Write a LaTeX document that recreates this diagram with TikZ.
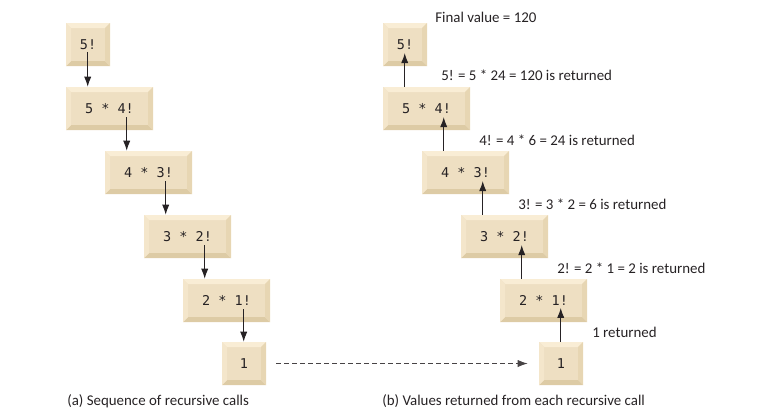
\documentclass[tikz,border=0pt]{standalone}
\usepackage{fontspec}
\setmainfont{Carlito}
\setmonofont{DejaVu Sans Mono}
\usetikzlibrary{arrows.meta,calc}
\definecolor{keyface}{HTML}{EEDFC2}
\definecolor{keytop}{HTML}{F9EDD5}
\definecolor{keyleft}{HTML}{F4E6CB}
\definecolor{keyright}{HTML}{E7D6B3}
\definecolor{keybottom}{HTML}{DDCBA5}
\definecolor{ink}{HTML}{262224}
\tikzset{>={Latex[length=2.5mm,width=1.8mm]}}
\tikzset{
  keybox/.style={rectangle,inner sep=0pt,minimum width=11mm,minimum height=10.75mm,
    fill=keyface,text=ink,font=\ttfamily\fontsize{9.6}{11}\selectfont,
    path picture={
      \path (path picture bounding box.north west) coordinate (nw)
            (path picture bounding box.south east) coordinate (se);
      \fill[keytop] (nw) -- (nw -| se) -- ($(nw -| se)+(-1.25mm,-1.25mm)$) -- ($(nw)+(1.25mm,-1.25mm)$) -- cycle;
      \fill[keybottom] (se) -- (se -| nw) -- ($(se -| nw)+(1.25mm,1.25mm)$) -- ($(se)+(-1.25mm,1.25mm)$) -- cycle;
      \fill[keyleft] (nw) -- (se -| nw) -- ($(se -| nw)+(1.25mm,1.25mm)$) -- ($(nw)+(1.25mm,-1.25mm)$) -- cycle;
      \fill[keyright] (se) -- (nw -| se) -- ($(nw -| se)+(-1.25mm,-1.25mm)$) -- ($(se)+(-1.25mm,1.25mm)$) -- cycle;
    }},
  widekey/.style={keybox,minimum width=21.75mm},
  note/.style={anchor=west,inner sep=0pt,text=ink,font=\fontsize{10.6}{12}\selectfont},
  callarrow/.style={->,draw=ink,line width=0.7pt}
}

\begin{document}
\begin{tikzpicture}[x=0.25mm,y=-0.25mm]
\useasboundingbox (0,0) rectangle (772,416);
% (a) the calls going down
\node[keybox]  (a1) at (88,44.5)    {5!};
\node[widekey] (a2) at (109.5,108.5) {5 * 4!};
\node[widekey] (a3) at (148.5,172.5) {4 * 3!};
\node[widekey] (a4) at (187.5,236.5) {3 * 2!};
\node[widekey] (a5) at (226.5,300.5) {2 * 1!};
\node[keybox]  (a6) at (244,363.5)  {1};

% (b) the values coming back
\node[keybox]  (b1) at (405,44.5)    {5!};
\node[widekey] (b2) at (426.5,108.5) {5 * 4!};
\node[widekey] (b3) at (465.5,172.5) {4 * 3!};
\node[widekey] (b4) at (504.5,236.5) {3 * 2!};
\node[widekey] (b5) at (543.5,300.5) {2 * 1!};
\node[keybox]  (b6) at (561,363.5)  {1};

\draw[callarrow] ($(a2.north west |- a1.south)+(5.5mm,3.6mm)$) -- ($(a2.north west)+(5.5mm,0)$);
\draw[callarrow] ($(a3.north west |- a2.south)+(5.5mm,3.3mm)$) -- ($(a3.north west)+(5.5mm,0)$);
\draw[callarrow] ($(a4.north west |- a3.south)+(5.5mm,3.3mm)$) -- ($(a4.north west)+(5.5mm,0)$);
\draw[callarrow] ($(a5.north west |- a4.south)+(5.5mm,3.3mm)$) -- ($(a5.north west)+(5.5mm,0)$);
\draw[callarrow] ($(a6.north west |- a5.south)+(5.5mm,3.3mm)$) -- ($(a6.north west)+(5.5mm,0)$);

\draw[callarrow] ($(b2.north west)+(5.5mm,0)$) -- ($(b2.north west |- b1.south)+(5.5mm,3.3mm)$);
\draw[callarrow] ($(b3.north west)+(5.5mm,0)$) -- ($(b3.north west |- b2.south)+(5.5mm,3.3mm)$);
\draw[callarrow] ($(b4.north west)+(5.5mm,0)$) -- ($(b4.north west |- b3.south)+(5.5mm,3.3mm)$);
\draw[callarrow] ($(b5.north west)+(5.5mm,0)$) -- ($(b5.north west |- b4.south)+(5.5mm,3.3mm)$);
\draw[callarrow] ($(b6.north west)+(5.5mm,0)$) -- ($(b6.north west |- b5.south)+(5.5mm,3.6mm)$);

%\draw[->] (a6) -- (b6);
\draw[callarrow,draw=ink!85,dash pattern=on 1.2mm off 0.8mm,shorten <=2.5mm,shorten >=2.75mm] (a6) -- (b6);

\node[note] (f0) at (435,17)  {Final value = 120};
\node[note] (r1) at (441,75)  {5! = 5 * 24 = 120 is returned};
\node[note] (r2) at (479,140) {4! = 4 * 6 = 24 is returned};
\node[note] (r3) at (518,204) {3! = 3 * 2 = 6 is returned};
\node[note] (r4) at (557,268) {2! = 2 * 1 = 2 is returned};
\node[note] (r5) at (592,332) {1 returned};

\node[note] (capa) at (67,401)  {(a) Sequence of recursive calls};
\node[note] (capb) at (382,401) {(b) Values returned from each recursive call};
\end{tikzpicture}
\end{document}
